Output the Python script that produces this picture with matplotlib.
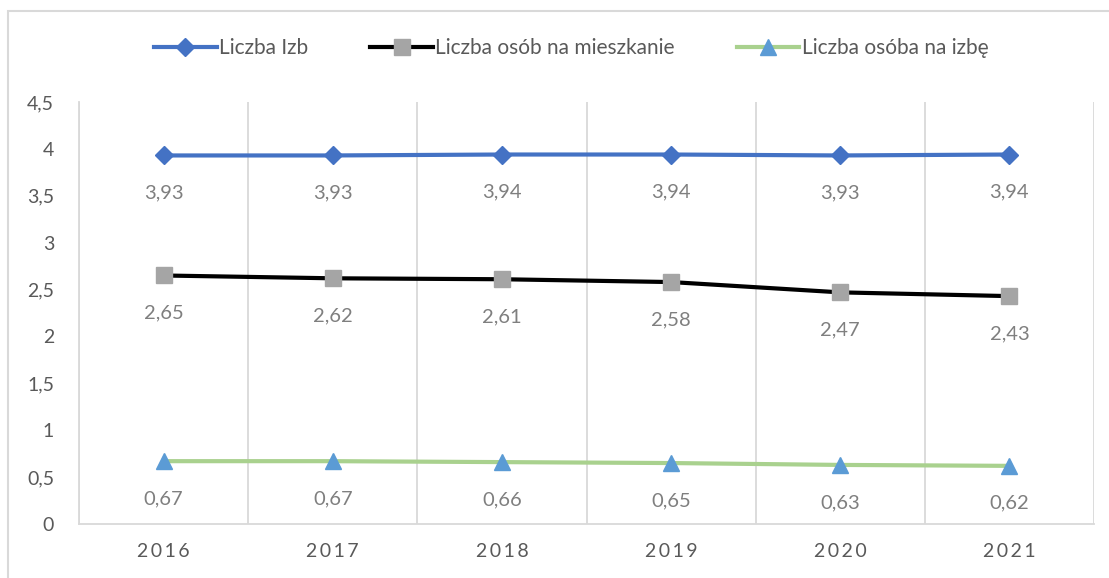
import matplotlib.pyplot as plt
from matplotlib.patches import Rectangle

years = ['2016', '2017', '2018', '2019', '2020', '2021']
liczba_izb = [3.93, 3.93, 3.94, 3.94, 3.93, 3.94]
osob_na_mieszkanie = [2.65, 2.62, 2.61, 2.58, 2.47, 2.43]
osob_na_izbe = [0.67, 0.67, 0.66, 0.65, 0.63, 0.62]
y_ticks = [0, 0.5, 1, 1.5, 2, 2.5, 3, 3.5, 4, 4.5]

plt.rcParams['font.family'] = ['Lato', 'DejaVu Sans']

fig = plt.figure(figsize=(11.09, 5.78), dpi=100)
ax = fig.add_axes([79 / 1109, 1 - 524 / 578, (1094 - 79) / 1109, (524 - 102) / 578])

# outer chart border
fig.patches.append(Rectangle((8 / 1109, -0.05), 1.2, 1 - 11 / 578 + 0.05,
                             transform=fig.transFigure, fill=False,
                             edgecolor='#d9d9d9', linewidth=1.5))

x = range(len(years))
series = [
    (liczba_izb, 'Liczba Izb', '#4472C4', 'D', '#4472C4', 9),
    (osob_na_mieszkanie, 'Liczba osób na mieszkanie', 'black', 's', '#A5A5A5', 11),
    (osob_na_izbe, 'Liczba osóba na izbę', '#A9D18E', '^', '#5B9BD5', 11),
]
for vals, label, lc, m, mc, ms in series:
    ax.plot(x, vals, color=lc, linewidth=3, marker=m, markersize=ms,
            markerfacecolor=mc, markeredgecolor=mc, label=label, zorder=3)
    for xi, v in zip(x, vals):
        ax.annotate(f'{v:.2f}'.replace('.', ','), (xi, v), xytext=(0, -27),
                    textcoords='offset points', ha='center', va='center',
                    fontsize=14.5, color='#7f7f7f')

ax.set_xlim(-0.5, len(years) - 0.5)
ax.set_ylim(0, 4.5)
ax.set_yticks(y_ticks)
ax.set_yticklabels([f'{t:g}'.replace('.', ',') for t in y_ticks])
ax.set_xticks(list(x))
ax.set_xticklabels(['\u2009'.join(y) for y in years])
ax.set_xticks([i - 0.5 for i in range(len(years) + 1)], minor=True)
ax.grid(axis='x', which='minor', color='#d9d9d9', linewidth=1.3)
ax.tick_params(axis='both', which='both', length=0)
ax.tick_params(axis='y', labelsize=14, labelcolor='#595959', pad=18)
ax.tick_params(axis='x', labelsize=14, labelcolor='#595959', pad=14)

for s in ['top', 'right']:
    ax.spines[s].set_visible(False)
ax.spines['left'].set_color('#d9d9d9')
ax.spines['bottom'].set_color('#d9d9d9')
ax.spines['left'].set_linewidth(1.3)
ax.spines['bottom'].set_linewidth(1.3)

fig.legend(loc='center', bbox_to_anchor=(0.515, 1 - 48 / 578), ncol=3, frameon=False,
           fontsize=15, labelcolor='#595959', handlelength=3, handletextpad=0.1,
           columnspacing=3)

plt.savefig('out.png', dpi=100)
